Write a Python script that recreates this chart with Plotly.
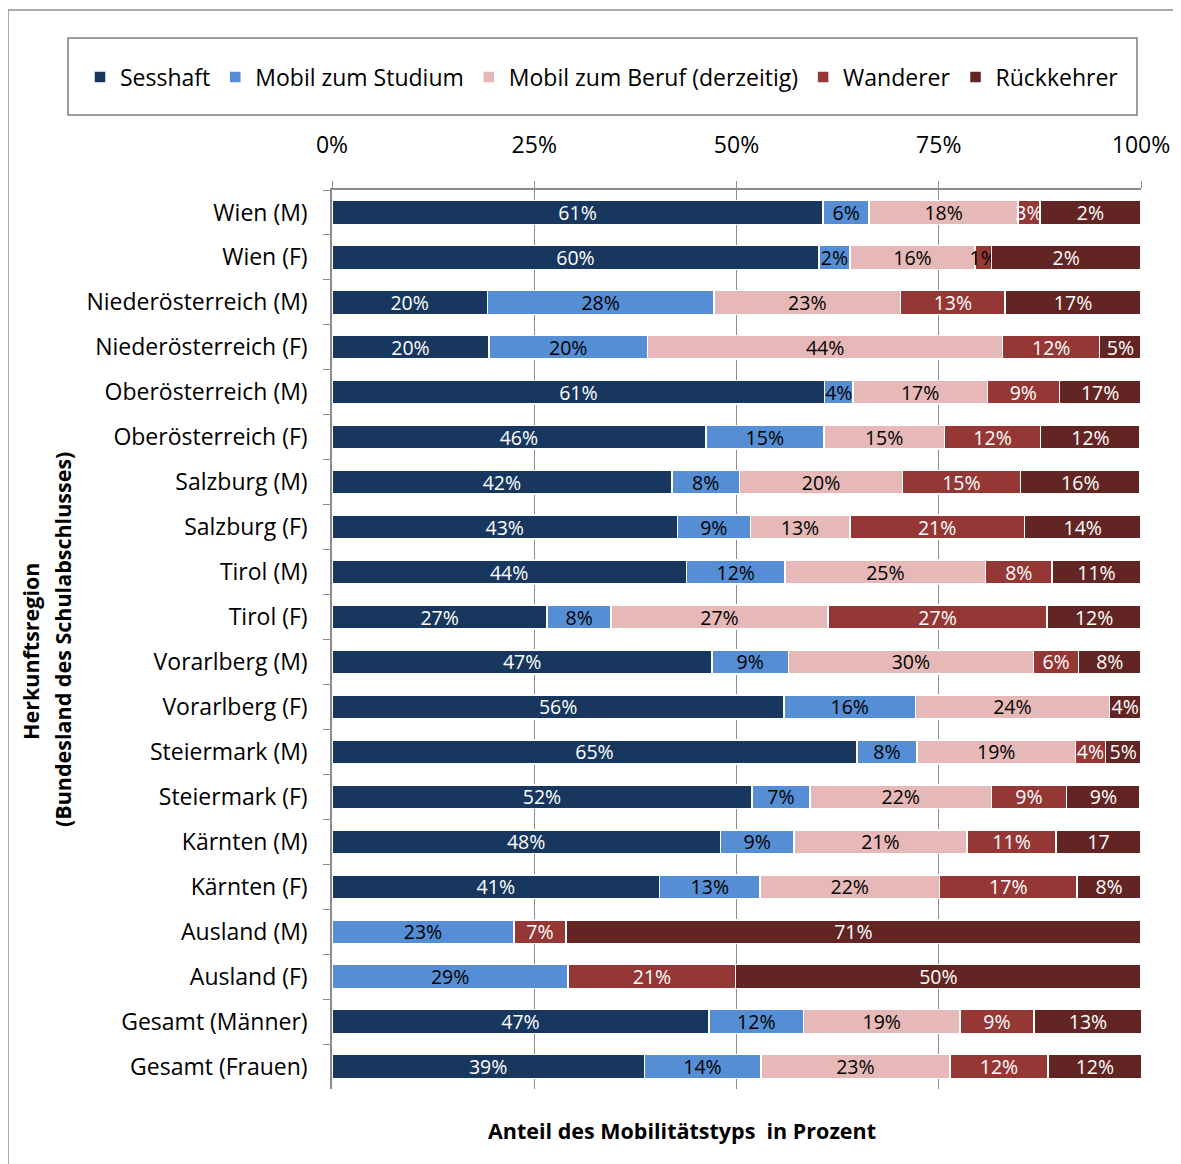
import plotly.graph_objects as go

categories = ["Wien (M)", "Wien (F)", "Niederösterreich (M)", "Niederösterreich (F)",
              "Oberösterreich (M)", "Oberösterreich (F)", "Salzburg (M)", "Salzburg (F)",
              "Tirol (M)", "Tirol (F)", "Vorarlberg (M)", "Vorarlberg (F)",
              "Steiermark (M)", "Steiermark (F)", "Kärnten (M)", "Kärnten (F)",
              "Ausland (M)", "Ausland (F)", "Gesamt (Männer)", "Gesamt (Frauen)"]

series_names = ["Sesshaft", "Mobil zum Studium", "Mobil zum Beruf (derzeitig)", "Wanderer", "Rückkehrer"]

sesshaft = [60.7, 60.2, 19.2, 19.4, 60.9, 46.2, 42.0, 42.7, 43.8, 26.6, 47.0, 55.9, 64.9, 51.9, 48.0, 40.5, 0, 0, 46.6, 38.6]
studium = [5.7, 3.8, 28.0, 19.6, 3.5, 14.6, 8.4, 9.0, 12.2, 7.9, 9.4, 16.2, 7.4, 7.2, 9.1, 12.4, 22.5, 29.2, 11.7, 14.4]
beruf = [18.4, 15.5, 23.1, 43.9, 16.6, 14.9, 20.1, 12.3, 24.8, 26.8, 30.3, 24.0, 19.6, 22.4, 21.4, 22.2, 0, 0, 19.3, 23.4]
wanderer = [2.7, 2.0, 12.9, 12.0, 8.9, 11.9, 14.6, 21.6, 8.2, 27.1, 5.6, 0, 3.7, 9.3, 11.0, 17.0, 6.4, 20.7, 9.2, 12.1]
rueckkehrer = [12.5, 18.5, 16.8, 5.1, 10.1, 12.3, 14.8, 14.4, 11.0, 11.6, 7.7, 3.9, 4.4, 9.1, 10.5, 7.9, 71.1, 50.1, 13.3, 11.6]

lbl_sesshaft = ["61%", "60%", "20%", "20%", "61%", "46%", "42%", "43%", "44%", "27%", "47%", "56%", "65%", "52%", "48%", "41%", "", "", "47%", "39%"]
lbl_studium = ["6%", "2%", "28%", "20%", "4%", "15%", "8%", "9%", "12%", "8%", "9%", "16%", "8%", "7%", "9%", "13%", "23%", "29%", "12%", "14%"]
lbl_beruf = ["18%", "16%", "23%", "44%", "17%", "15%", "20%", "13%", "25%", "27%", "30%", "24%", "19%", "22%", "21%", "22%", "", "", "19%", "23%"]
lbl_wanderer = ["3%", "1%", "13%", "12%", "9%", "12%", "15%", "21%", "8%", "27%", "6%", "", "4%", "9%", "11%", "17%", "7%", "21%", "9%", "12%"]
lbl_rueckkehrer = ["2%", "2%", "17%", "5%", "17%", "12%", "16%", "14%", "11%", "12%", "8%", "4%", "5%", "9%", "17", "8%", "71%", "50%", "13%", "12%"]

x_ticks = [0, 25, 50, 75, 100]
x_ticklabels = ["0%", "25%", "50%", "75%", "100%"]

colors = ["#17375E", "#558ED5", "#E6B9B8", "#953735", "#632523"]
text_colors = ["white", "black", "black", "white", "white"]

FONT = "Open Sans"
W, H = 1181, 1164
OFF = 8  # page body margin
# plot area in page pixels: x 332..1141, y 190..1089
L = 332 - OFF
T = 190 - OFF
PW = 1141 - 332
PH = 1089 - 190
R = W - L - PW
B = H - T - PH


def px_x(px):
    return (px - OFF - L) / PW


def px_y(py):
    return (T + PH - (py - OFF)) / PH


fig = go.Figure()
values = [sesshaft, studium, beruf, wanderer, rueckkehrer]
labels = [lbl_sesshaft, lbl_studium, lbl_beruf, lbl_wanderer, lbl_rueckkehrer]
for i, (name, vals, lbls, col, tcol) in enumerate(zip(series_names, values, labels, colors, text_colors)):
    tcols = [tcol] * len(vals)
    if name == "Wanderer":
        tcols[1] = "black"  # the overflowing "1%" label is drawn dark in the original
    fig.add_trace(go.Bar(
        y=categories, x=vals, name=name, orientation="h",
        marker=dict(color=col, line=dict(color="white", width=1.5)),
        text=lbls, textposition="inside", insidetextanchor="middle",
        constraintext="none", textangle=0,
        textfont=dict(family=FONT, size=19.5, color=tcols),
        hoverinfo="skip",
    ))

fig.update_layout(
    width=W, height=H,
    margin=dict(l=L, r=R, t=T, b=B, autoexpand=False),
    barmode="stack", bargap=0.47,
    plot_bgcolor="white", paper_bgcolor="white",
    font=dict(family=FONT, size=22, color="black"),
    showlegend=True,
    legend=dict(orientation="h", x=px_x(80), y=px_y(77), xanchor="left", yanchor="middle",
                font=dict(family=FONT, size=23), bgcolor="rgba(0,0,0,0)", traceorder="normal",
                itemclick=False),
    xaxis=dict(side="top", range=[0, 100], tickvals=x_ticks, ticktext=x_ticklabels,
               showgrid=True, gridcolor="#8C8C8C", gridwidth=1,
               showline=True, linecolor="#8C8C8C", linewidth=1.5,
               ticks="outside", ticklen=7, tickcolor="#8C8C8C",
               ticklabelstandoff=19, zeroline=False,
               tickfont=dict(family=FONT, size=23)),
    yaxis=dict(categoryorder="array", categoryarray=categories, autorange="reversed",
               showline=True, linecolor="#8C8C8C", linewidth=1.5,
               ticks="outside", ticklen=7, tickcolor="#8C8C8C", tickson="boundaries",
               ticklabelstandoff=18, showgrid=False,
               tickfont=dict(family=FONT, size=23)),
    shapes=[
        dict(type="rect", xref="paper", yref="paper", x0=px_x(68), x1=px_x(1137), y0=px_y(115), y1=px_y(38),
             line=dict(color="#7F7F7F", width=1.5), fillcolor="rgba(0,0,0,0)", layer="below"),
        dict(type="line", xref="paper", yref="paper", x0=px_x(8), x1=px_x(8), y0=px_y(10), y1=px_y(1200),
             line=dict(color="#8C8C8C", width=1.5)),
        dict(type="line", xref="paper", yref="paper", x0=px_x(8), x1=px_x(1200), y0=px_y(10), y1=px_y(10),
             line=dict(color="#8C8C8C", width=1.5)),
    ],
    annotations=[
        dict(text="<b>Anteil des Mobilitätstyps  in Prozent</b>", xref="paper", yref="paper",
             x=px_x(682), y=px_y(1130), xanchor="center", yanchor="middle", showarrow=False,
             font=dict(family=FONT, size=21.5, color="black")),
        dict(text="<b>Herkunftsregion</b>", xref="paper", yref="paper",
             x=px_x(30), y=px_y(652), xanchor="center", yanchor="middle", showarrow=False, textangle=-90,
             font=dict(family=FONT, size=21.5, color="black")),
        dict(text="<b>(Bundesland des Schulabschlusses)</b>", xref="paper", yref="paper",
             x=px_x(62), y=px_y(640), xanchor="center", yanchor="middle", showarrow=False, textangle=-90,
             font=dict(family=FONT, size=21.5, color="black")),
    ],
)

fig.write_html("out.html")
